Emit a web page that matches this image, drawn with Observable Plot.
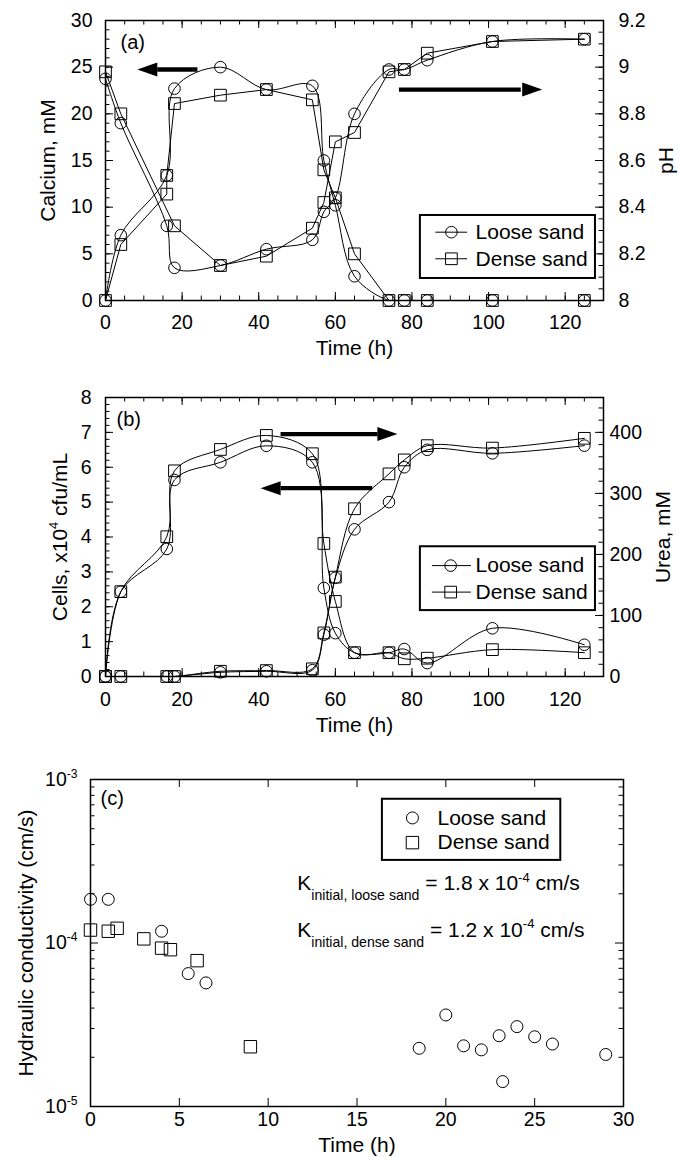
<!DOCTYPE html>
<html><head><meta charset="utf-8">
<script src="https://cdn.jsdelivr.net/npm/d3@7"></script>
<script src="https://cdn.jsdelivr.net/npm/@observablehq/plot@0.6"></script>
<style>
body{margin:0;background:#fff;}
#chart{width:678px;}
#chart svg{display:block;}
</style></head><body><div id="chart"></div>
<script>
// ---------------- data: panel (a) ----------------
const timeA = [0,4,16,18,30,42,54,57,60,65,74,78,84,101,125];
const calciumLoose = [0,7,13.4,22.7,25,22.6,23,15,10.2,2.6,0,0,0,0,0];
const timeCaDense = [0,4,16,16,18,30,42,54,57,60,65,74,78,84,101,125];
const calciumDense = [0,6,11.4,13.4,21.1,22,22.6,21.5,14,11,5,0,0,0,0,0];
const pHLoose = [8.95,8.76,8.32,8.14,8.15,8.22,8.26,8.38,8.44,8.80,8.99,8.99,9.03,9.11,9.12];
const timePhDense = [0,4,18,30,42,54,57,60,65,74,78,84,101,125];
const pHDense = [8.98,8.80,8.32,8.15,8.19,8.31,8.42,8.68,8.72,8.98,8.99,9.06,9.11,9.12];
const xTicksAB = [0,20,40,60,80,100,120];
const caTicks = [0,5,10,15,20,25,30];
const pHTicks = [8,8.2,8.4,8.6,8.8,9,9.2];

// ---------------- data: panel (b) ----------------
const timeB = [0,4,16,18,30,42,54,57,60,65,74,78,84,101,125];
const cellsLoose = [0,0,0,0,0.12,0.15,0.18,1.2,2.83,4.22,5.0,6.0,6.5,6.4,6.62];
const cellsDense = [0,0,0,0,0.15,0.17,0.22,1.25,2.85,4.81,5.81,6.21,6.62,6.55,6.83];
const ureaLoose = [0,139,209,322,351,378,351,145,71,39,39,45,22,79,52];
const ureaDense = [0,139,229,337,372,395,365,218,123,39,39,29,30,44,39];
const cellTicks = [0,1,2,3,4,5,6,7,8];
const ureaTicks = [0,100,200,300,400];

// ---------------- data: panel (c) ----------------
const timeKLoose = [0,1,4,5.5,6.5,18.5,20,21,22,23,23.2,24,25,26,29];
const kLoose = [1.85e-4,1.85e-4,1.18e-4,6.5e-5,5.7e-5,2.27e-5,3.63e-5,2.35e-5,2.22e-5,2.71e-5,1.42e-5,3.08e-5,2.67e-5,2.41e-5,2.08e-5];
const timeKDense = [0,1,1.5,3,4,4.5,6,9];
const kDense = [1.2e-4,1.18e-4,1.23e-4,1.06e-4,9.3e-5,9.1e-5,7.8e-5,2.32e-5];
const xTicksC = [0,5,10,15,20,25,30];
const kTicks = [1e-5,1e-4,1e-3];
const kTickLabels = ["10^{-5}","10^{-4}","10^{-3}"];

// ---------------- helpers ----------------
const FONT = "'Liberation Sans', Arial, Helvetica, sans-serif";
const TICK_FS = 19.5, TXT_FS = 21;
const xy = (ts, vs) => ts.map((t, i) => ({t, v: vs[i]}));
const I = d => d;

function tickMarks({fw, fh, xMaj, xMin, yL, yLmin, yR, yRmin, yRmap = I}) {
  const M = 8, m = 4.5, s = {stroke: "black", strokeWidth: 1};
  const out = [
    Plot.tickX(xMaj, {x: I, insetTop: fh - M, ...s}),
    Plot.tickX(xMaj, {x: I, insetBottom: fh - M, ...s}),
    Plot.tickY(yL, {y: I, insetRight: fw - M, ...s}),
    Plot.tickY(yR, {y: yRmap, insetLeft: fw - M, ...s}),
    Plot.tickY(yLmin, {y: I, insetRight: fw - m, ...s}),
    Plot.tickY(yRmin, {y: yRmap, insetLeft: fw - m, ...s})
  ];
  if (xMin) out.push(
    Plot.tickX(xMin, {x: I, insetTop: fh - m, ...s}),
    Plot.tickX(xMin, {x: I, insetBottom: fh - m, ...s}));
  return out;
}

const headRight = {draw(c) { c.moveTo(0, 0); c.lineTo(-20, -7); c.lineTo(-20, 7); c.closePath(); }};
const headLeft = {draw(c) { c.moveTo(0, 0); c.lineTo(20, -7); c.lineTo(20, 7); c.closePath(); }};
function arrowMarks(arrows) {
  return [
    Plot.link(arrows, {x1: "tail", x2: "base", y1: "y", y2: "y", stroke: "black", strokeWidth: 4.3}),
    Plot.dot(arrows.filter(d => d.dir === "right"), {x: "tip", y: "y", symbol: headRight, fill: "black", stroke: "none"}),
    Plot.dot(arrows.filter(d => d.dir === "left"), {x: "tip", y: "y", symbol: headLeft, fill: "black", stroke: "none"})
  ];
}

function legendMarks(L, withLine, rc, rs) {
  const marks = [Plot.rect([L], {x1: "x1", x2: "x2", y1: "y1", y2: "y2", fill: "white", stroke: "black", strokeWidth: 2})];
  if (withLine) marks.push(Plot.link(L.rows, {x1: () => L.lx1, x2: () => L.lx2, y1: "y", y2: "y", stroke: "black", strokeWidth: 1}));
  marks.push(
    Plot.dot(L.rows.filter(d => d.sym === "circle"), {x: () => L.sx, y: "y", r: rc, stroke: "black", fill: "none", strokeWidth: 1}),
    Plot.dot(L.rows.filter(d => d.sym === "square"), {x: () => L.sx, y: "y", r: rs, symbol: "square", stroke: "black", fill: "none", strokeWidth: 1}),
    Plot.text(L.rows, {x: () => L.tx, y: "y", text: "label", textAnchor: "start", lineAnchor: "middle", fontSize: TXT_FS})
  );
  return marks;
}

const lineOpts = {x: "t", y: "v", stroke: "black", strokeWidth: 1, clip: true};
const circ = (r) => ({x: "t", y: "v", r, stroke: "black", fill: "none", strokeWidth: 1});
const sq = (r) => ({x: "t", y: "v", r, symbol: "square", stroke: "black", fill: "none", strokeWidth: 1});
const vTitle = (label, anchor, dx) => Plot.text([label], {text: I, frameAnchor: anchor, dx, rotate: -90, textAnchor: "middle", lineAnchor: "bottom", fontSize: TXT_FS});

// ---------------- panel (a) ----------------
const toCa = p => (p - 8) / 1.2 * 30;
const caL = xy(timeA, calciumLoose), caD = xy(timeCaDense, calciumDense);
const phL = xy(timeA, pHLoose).map(d => ({t: d.t, v: toCa(d.v)}));
const phD = xy(timePhDense, pHDense).map(d => ({t: d.t, v: toCa(d.v)}));
const arrowsA = [
  {y: 24.75, tail: 24, base: 13.5, tip: 8.3, dir: "left"},
  {y: 22.6, tail: 76.6, base: 108.4, tip: 114, dir: "right"}
];
const legA = {x1: 82.2, x2: 127.9, y1: 9.11, y2: 2.36, lx1: 86.1, lx2: 94.4, sx: 90.3, tx: 96.6,
  rows: [{y: 7.32, label: "Loose sand", sym: "circle"}, {y: 4.47, label: "Dense sand", sym: "square"}]};

const plotA = Plot.plot({
  width: 678, height: 370, marginTop: 20, marginBottom: 70, marginLeft: 105, marginRight: 75,
  style: {fontFamily: FONT, background: "white", color: "black", overflow: "visible"},
  x: {domain: [0, 130], axis: null},
  y: {domain: [0, 30], axis: null},
  marks: [
    ...tickMarks({fw: 498, fh: 280, xMaj: xTicksAB, xMin: d3.range(0, 131, 5),
      yL: caTicks, yLmin: d3.range(0, 31, 1), yR: pHTicks, yRmin: d3.range(0, 25).map(i => 8 + i * 0.05), yRmap: toCa}),
    Plot.line(caL, {...lineOpts, curve: "catmull-rom"}),
    Plot.line(caD, {...lineOpts, curve: "linear"}),
    Plot.line(phL, {...lineOpts, curve: "catmull-rom"}),
    Plot.line(phD, {...lineOpts, curve: "linear"}),
    Plot.dot(caL, circ(5.8)), Plot.dot(caD, sq(6.6)),
    Plot.dot(phL, circ(5.8)), Plot.dot(phD, sq(6.6)),
    ...arrowMarks(arrowsA),
    ...legendMarks(legA, true, 5.8, 6.6),
    Plot.text(caTicks, {y: I, text: d => String(d), frameAnchor: "left", dx: -13, textAnchor: "end", lineAnchor: "middle", fontSize: TICK_FS}),
    Plot.text(pHTicks, {y: d => toCa(d), text: d => String(d), frameAnchor: "right", dx: 15, textAnchor: "start", lineAnchor: "middle", fontSize: TICK_FS}),
    Plot.text(xTicksAB, {x: I, text: d => String(d), frameAnchor: "bottom", dy: 15, lineAnchor: "top", fontSize: TICK_FS}),
    Plot.text(["Time (h)"], {text: I, frameAnchor: "bottom", dy: 54, textAnchor: "middle", lineAnchor: "bottom", fontSize: TXT_FS}),
    vTitle("Calcium, mM", "left", -51),
    vTitle("pH", "right", 69),
    Plot.text(["(a)"], {text: I, frameAnchor: "top-left", dx: 15, dy: 28, textAnchor: "start", lineAnchor: "bottom", fontSize: 20}),
    Plot.frame({stroke: "black", strokeWidth: 1.5})
  ]
});

// ---------------- panel (b) ----------------
const UREA_MAX = 457.14, CELL_MAX = 8;
const toCell = u => u / UREA_MAX * CELL_MAX;
const ceL = xy(timeB, cellsLoose), ceD = xy(timeB, cellsDense);
const urL = xy(timeB, ureaLoose).map(d => ({t: d.t, v: toCell(d.v)}));
const urD = xy(timeB, ureaDense).map(d => ({t: d.t, v: toCell(d.v)}));
const arrowsB = [
  {y: 6.95, tail: 45.7, base: 71.0, tip: 76.2, dir: "right"},
  {y: 5.4, tail: 69.6, base: 45.7, tip: 40.5, dir: "left"}
];
const legB = {x1: 82.2, x2: 127.9, y1: 3.72, y2: 1.89, lx1: 85.2, lx2: 95.4, sx: 90.1, tx: 96.6,
  rows: [{y: 3.18, label: "Loose sand", sym: "circle"}, {y: 2.42, label: "Dense sand", sym: "square"}]};

const plotB = Plot.plot({
  width: 678, height: 370, marginTop: 27, marginBottom: 64, marginLeft: 105, marginRight: 75,
  style: {fontFamily: FONT, background: "white", color: "black", overflow: "visible"},
  x: {domain: [0, 130], axis: null},
  y: {domain: [0, 8], axis: null},
  marks: [
    ...tickMarks({fw: 498, fh: 279, xMaj: xTicksAB, xMin: d3.range(0, 131, 5),
      yL: cellTicks, yLmin: d3.range(0, 41).map(i => i * 0.2), yR: ureaTicks, yRmin: d3.range(0, 441, 20), yRmap: toCell}),
    Plot.line(urL, {...lineOpts, curve: "catmull-rom"}),
    Plot.line(urD, {...lineOpts, curve: "catmull-rom"}),
    Plot.line(ceL, {...lineOpts, curve: "catmull-rom"}),
    Plot.line(ceD, {...lineOpts, curve: "catmull-rom"}),
    Plot.dot(urL, circ(5.8)), Plot.dot(urD, sq(6.6)),
    Plot.dot(ceL, circ(5.8)), Plot.dot(ceD, sq(6.6)),
    ...arrowMarks(arrowsB),
    ...legendMarks(legB, true, 5.8, 6.6),
    Plot.text(cellTicks, {y: I, text: d => String(d), frameAnchor: "left", dx: -14, textAnchor: "end", lineAnchor: "middle", fontSize: TICK_FS}),
    Plot.text(ureaTicks, {y: d => toCell(d), text: d => String(d), frameAnchor: "right", dx: 6, textAnchor: "start", lineAnchor: "middle", fontSize: TICK_FS}),
    Plot.text(xTicksAB, {x: I, text: d => String(d), frameAnchor: "bottom", dy: 16, lineAnchor: "top", fontSize: TICK_FS}),
    Plot.text(["Time (h)"], {text: I, frameAnchor: "bottom", dy: 55, textAnchor: "middle", lineAnchor: "bottom", fontSize: TXT_FS}),
    vTitle("Cells, x10^{4} cfu/mL", "left", -39),
    vTitle("Urea, mM", "right", 66),
    Plot.text(["(b)"], {text: I, frameAnchor: "top-left", dx: 11, dy: 28, textAnchor: "start", lineAnchor: "bottom", fontSize: 20}),
    Plot.frame({stroke: "black", strokeWidth: 1.5})
  ]
});

// ---------------- panel (c) ----------------
const kL = xy(timeKLoose, kLoose), kD = xy(timeKDense, kDense);
const kMinor = [1e-5, 1e-4].flatMap(b => d3.range(2, 10).map(k => k * b));
const legC = {x1: 16.43, x2: 26.47, y1: 7.57e-4, y2: 3.2e-4, sx: 18.12, tx: 19.53,
  rows: [{y: 5.82e-4, label: "Loose sand", sym: "circle"}, {y: 4.11e-4, label: "Dense sand", sym: "square"}]};
const kNotes = [
  {t: 11.64, y: 2.10e-4, label: "K_{initial, loose sand} = 1.8 x 10^{-4} cm/s"},
  {t: 11.64, y: 1.085e-4, label: "K_{initial, dense sand} = 1.2 x 10^{-4} cm/s"}
];

const plotC = Plot.plot({
  width: 678, height: 417, marginTop: 39, marginBottom: 51, marginLeft: 90, marginRight: 55,
  style: {fontFamily: FONT, background: "white", color: "black", overflow: "visible"},
  x: {domain: [0, 30], axis: null},
  y: {type: "log", domain: [1e-5, 1e-3], axis: null},
  marks: [
    ...tickMarks({fw: 533, fh: 327, xMaj: xTicksC, xMin: null,
      yL: kTicks, yLmin: kMinor, yR: kTicks, yRmin: kMinor}),
    Plot.dot(kL, circ(6)), Plot.dot(kD, sq(7)),
    ...legendMarks(legC, false, 6, 7),
    Plot.text(kNotes, {x: "t", y: "y", text: "label", textAnchor: "start", lineAnchor: "bottom", fontSize: TXT_FS}),
    Plot.text(kTicks, {y: I, text: (d, i) => kTickLabels[i], frameAnchor: "left", dx: -13, textAnchor: "end", lineAnchor: "middle", fontSize: TICK_FS}),
    Plot.text(xTicksC, {x: I, text: d => String(d), frameAnchor: "bottom", dy: 6, lineAnchor: "top", fontSize: TICK_FS}),
    Plot.text(["Time (h)"], {text: I, frameAnchor: "bottom", dy: 45, textAnchor: "middle", lineAnchor: "bottom", fontSize: TXT_FS}),
    vTitle("Hydraulic conductivity (cm/s)", "left", -58),
    Plot.text(["(c)"], {text: I, frameAnchor: "top-left", dx: 10, dy: 25, textAnchor: "start", lineAnchor: "bottom", fontSize: 20}),
    Plot.frame({stroke: "black", strokeWidth: 1.5})
  ]
});

const root = document.getElementById("chart");
root.append(plotA, plotB, plotC);

// superscripts / subscripts written as ^{..} and _{..}
function richify(svg) {
  svg.querySelectorAll("text").forEach(t => {
    const s = t.textContent;
    if (!/[\^_]\{/.test(s)) return;
    const fs = parseFloat(getComputedStyle(t).fontSize) || 20;
    while (t.firstChild) t.removeChild(t.firstChild);
    const re = /([\^_])\{([^}]*)\}/g;
    let last = 0, cur = 0, m;
    const add = (str, kind) => {
      if (!str) return;
      const sp = document.createElementNS("http://www.w3.org/2000/svg", "tspan");
      const target = kind === "^" ? -0.42 * fs : kind === "_" ? 0.48 * fs : 0;
      const dy = target - cur; cur = target;
      if (dy) sp.setAttribute("dy", dy.toFixed(2));
      if (kind) sp.setAttribute("font-size", ((kind === "^" ? 0.62 : 0.67) * fs).toFixed(1));
      sp.textContent = str;
      t.appendChild(sp);
    };
    while ((m = re.exec(s))) { add(s.slice(last, m.index), null); add(m[2], m[1]); last = re.lastIndex; }
    add(s.slice(last), null);
  });
}
[plotA, plotB, plotC].forEach(richify);
</script></body></html>
